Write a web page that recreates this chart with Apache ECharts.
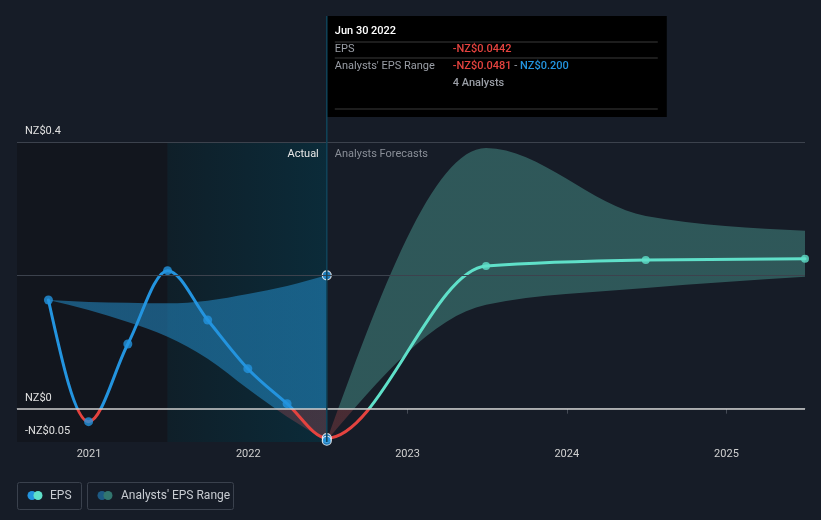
<!DOCTYPE html>
<html>
<head>
<meta charset="utf-8">
<script src="https://cdn.jsdelivr.net/npm/echarts@6/dist/echarts.min.js"></script>
<style>
html, body { margin: 0; padding: 0; background: #161c27; }
#chart { width: 821px; height: 520px; }
</style>
</head>
<body>
<div id="chart"></div>
<script>
// actual EPS (quarterly, trailing)
const pastDates = ['2020-09-30', '2020-12-31', '2021-03-31', '2021-06-30', '2021-09-30', '2021-12-31', '2022-03-31', '2022-06-30'];
const pastEps = [0.163, -0.0195, 0.097, 0.207, 0.133, 0.060, 0.0075, -0.0442];
const pastRangeLow = [0.163, 0.148, 0.130, 0.108, 0.075, 0.030, -0.012, -0.0481];
const pastRangeHigh = [0.163, 0.160, 0.159, 0.158, 0.162, 0.172, 0.184, 0.200];

// analyst forecasts
const fcDates = ['2022-06-30', '2023-06-30', '2024-06-30', '2025-06-30'];
const fcEps = [-0.0442, 0.214, 0.223, 0.225];
const fcLow = [-0.0481, 0.156, 0.181, 0.198];
const fcHigh = [-0.0481, 0.391, 0.289, 0.267];

const yLabelTicks = [0.4, 0, -0.05];
const yGridLines = [0.4, 0.2];
const xStart = '2020-07-20';
const xEnd = '2025-06-30';
const shadeStart = '2021-06-30';
const actualEnd = '2022-06-30';

const BLUE = '#2394df';
const TEAL = '#5fe0c9';
const RED = '#e5433f';
const FONT = 'Roboto, "Noto Sans", sans-serif';

const pairs = (dates, vals) => dates.map((d, i) => [d, vals[i]]);
const ts = d => +echarts.time.parse(d);

function fmtNZ(v) {
    if (Math.abs(v) < 1e-9) return 'NZ$0';
    return (v < 0 ? '-' : '') + 'NZ$' + Math.abs(v);
}

// monotone cubic tangents (same rule as d3 curveMonotoneX), pixel space
function tangents(pts) {
    const n = pts.length, h = [], s = [], t = new Array(n).fill(0);
    for (let i = 0; i < n - 1; i++) {
        h[i] = pts[i + 1][0] - pts[i][0];
        s[i] = (pts[i + 1][1] - pts[i][1]) / h[i];
    }
    for (let i = 1; i < n - 1; i++) {
        const p = (s[i - 1] * h[i] + s[i] * h[i - 1]) / (h[i - 1] + h[i]);
        t[i] = (Math.sign(s[i - 1]) + Math.sign(s[i])) *
            Math.min(Math.abs(s[i - 1]), Math.abs(s[i]), 0.5 * Math.abs(p)) || 0;
    }
    if (n > 2) {
        t[0] = (3 * s[0] - t[1]) / 2;
        t[n - 1] = (3 * s[n - 2] - t[n - 2]) / 2;
    } else {
        t[0] = t[1] = s[0];
    }
    return t;
}

function fwd(pts, t, from, to) {
    let d = '';
    for (let i = from; i < to; i++) {
        const h = (pts[i + 1][0] - pts[i][0]) / 3;
        d += ' C' + (pts[i][0] + h) + ',' + (pts[i][1] + t[i] * h) + ' ' +
            (pts[i + 1][0] - h) + ',' + (pts[i + 1][1] - t[i + 1] * h) + ' ' + pts[i + 1][0] + ',' + pts[i + 1][1];
    }
    return d;
}

function back(pts, t, from, to) {
    let d = '';
    for (let i = to - 1; i >= from; i--) {
        const h = (pts[i + 1][0] - pts[i][0]) / 3;
        d += ' C' + (pts[i + 1][0] - h) + ',' + (pts[i + 1][1] - t[i + 1] * h) + ' ' +
            (pts[i][0] + h) + ',' + (pts[i][1] + t[i] * h) + ' ' + pts[i][0] + ',' + pts[i][1];
    }
    return d;
}

// fill that switches colour at the zero line
function splitFill(api, above, below) {
    const x0 = ts(xStart);
    const top = api.coord([x0, 0.4])[1];
    const bot = api.coord([x0, -0.05])[1];
    const f = (api.coord([x0, 0])[1] - top) / (bot - top);
    return {
        type: 'linear', global: true, x: 0, y: top, x2: 0, y2: bot,
        colorStops: [
            { offset: 0, color: above }, { offset: f, color: above },
            { offset: f, color: below }, { offset: 1, color: below }
        ]
    };
}

function bandItem(dates, hi, lo, above, below) {
    return function (params, api) {
        if (params.dataIndex !== 0) return null;
        const up = dates.map((d, i) => api.coord([ts(d), hi[i]]));
        const dn = dates.map((d, i) => api.coord([ts(d), lo[i]]));
        const n = dates.length;
        const pathData = 'M' + up[0][0] + ',' + up[0][1] + fwd(up, tangents(up), 0, n - 1) +
            ' L' + dn[n - 1][0] + ',' + dn[n - 1][1] + back(dn, tangents(dn), 0, n - 1) + ' Z';
        return { type: 'path', shape: { pathData }, style: { fill: splitFill(api, above, below), stroke: null } };
    };
}

// whole EPS line: one monotone curve, coloured blue (actual) / teal (forecast), red below zero
const allDates = pastDates.concat(fcDates.slice(1));
const allEps = pastEps.concat(fcEps.slice(1));

function epsItem(params, api) {
    if (params.dataIndex !== 0) return null;
    const pts = allDates.map((d, i) => api.coord([ts(d), allEps[i]]));
    const t = tangents(pts);
    const k = pastDates.length - 1;
    const mk = (from, to, color) => ({
        type: 'path',
        shape: { pathData: 'M' + pts[from][0] + ',' + pts[from][1] + fwd(pts, t, from, to) },
        style: { fill: null, stroke: splitFill(api, color, RED), lineWidth: 3, lineCap: 'round', lineJoin: 'round' }
    });
    return { type: 'group', children: [mk(0, k, BLUE), mk(k, pts.length - 1, TEAL)] };
}

const chart = echarts.init(document.getElementById('chart'));

const option = {
    backgroundColor: '#161c27',
    animation: false,
    textStyle: { fontFamily: FONT },
    grid: { left: 17, right: 16, top: 142, bottom: 78 },
    xAxis: {
        type: 'time',
        min: xStart,
        max: xEnd,
        splitNumber: 5,
        axisLine: { lineStyle: { color: '#454b56', width: 1 } },
        axisTick: { show: true, length: 5, lineStyle: { color: '#454b56' } },
        splitLine: { show: false },
        axisLabel: {
            color: '#d0d0d0', fontSize: 11, margin: 7, fontFamily: FONT,
            showMinLabel: false, showMaxLabel: false,
            formatter: v => String(new Date(v).getFullYear())
        }
    },
    yAxis: {
        type: 'value',
        z: 10,
        min: -0.05,
        max: 0.4,
        interval: 0.05,
        axisLine: { show: false },
        axisTick: { show: false },
        splitLine: { show: false },
        axisLabel: {
            inside: true, margin: 8, color: '#e0e0e0', fontSize: 11, fontFamily: FONT,
            verticalAlign: 'bottom', padding: [0, 0, 5, 0],
            formatter: v => yLabelTicks.some(t => Math.abs(t - v) < 1e-9) ? fmtNZ(v) : ''
        }
    },
    series: [
        {
            id: 'bg', type: 'line', data: [], z: 0, silent: true,
            markArea: {
                silent: true,
                data: [
                    [{ xAxis: xStart, itemStyle: { color: '#12161e' } }, { xAxis: shadeStart }],
                    [{ xAxis: shadeStart, itemStyle: { color: {
                        type: 'linear', x: 0, y: 0, x2: 1, y2: 0,
                        colorStops: [{ offset: 0, color: '#0f1f29' }, { offset: 1, color: '#0b2b39' }]
                    } } }, { xAxis: actualEnd }]
                ]
            }
        },
        {
            id: 'pastBand', type: 'custom', z: 1, silent: true,
            renderItem: bandItem(pastDates, pastRangeHigh, pastRangeLow, 'rgba(35,140,200,0.55)', 'rgba(190,80,90,0.3)'),
            data: pairs(pastDates, pastRangeHigh)
        },
        {
            id: 'fcBand', type: 'custom', z: 1, silent: true,
            renderItem: bandItem(fcDates, fcHigh, fcLow, 'rgba(77,160,150,0.45)', 'rgba(190,80,80,0.3)'),
            data: pairs(fcDates, fcHigh)
        },
        {
            id: 'grid', type: 'line', data: [], z: 2, silent: true,
            markLine: {
                silent: true, symbol: 'none', label: { show: false },
                data: yGridLines.map(v => ({ yAxis: v, lineStyle: { color: '#3c424d', width: 1, type: 'solid' } }))
                    .concat([{ yAxis: 0, lineStyle: { color: '#cfcfcf', width: 1.5, type: 'solid' } }])
            }
        },
        {
            id: 'eps', type: 'custom', z: 3, silent: true,
            renderItem: epsItem,
            data: pairs(allDates, allEps)
        },
        {
            id: 'pastDots', type: 'scatter', z: 4, silent: true, symbolSize: 9,
            itemStyle: { color: BLUE },
            data: pairs(pastDates, pastEps).map((p, i) => i === pastDates.length - 1
                ? { value: p, itemStyle: { borderColor: '#ffffff', borderWidth: 1.2 } } : p)
        },
        {
            id: 'fcDots', type: 'scatter', z: 4, silent: true, symbolSize: 8,
            itemStyle: { color: TEAL },
            data: pairs(fcDates, fcEps).slice(1)
        },
        {
            id: 'hoverDots', type: 'scatter', z: 4, silent: true, symbolSize: 9,
            itemStyle: { color: BLUE, borderColor: '#ffffff', borderWidth: 1.2 },
            data: [
                [actualEnd, pastRangeHigh[pastRangeHigh.length - 1]],
                [actualEnd, pastRangeLow[pastRangeLow.length - 1]]
            ]
        }
    ]
};

chart.setOption(option);

// overlay: hover guide, section labels, tooltip box, legend
const px = (d, v) => chart.convertToPixel({ gridIndex: 0 }, [d, v]);
const gridTop = px(xStart, 0.4)[1];
const gridBottom = px(xStart, -0.05)[1];
const xCut = px(actualEnd, 0)[0];
const tipY = 16;
const tipW = 340;
const lbl = { fill: '#9a9ea6', font: '11px ' + FONT };

chart.setOption({
    graphic: [
        { type: 'line', silent: true, z: 5, shape: { x1: xCut, y1: tipY, x2: xCut, y2: gridBottom },
          style: { stroke: '#10445a', lineWidth: 1.5 } },
        { type: 'text', silent: true, z: 6, x: xCut - 8, y: gridTop + 12,
          style: { text: 'Actual', fill: '#e8e8e8', font: '11px ' + FONT, align: 'right', verticalAlign: 'middle' } },
        { type: 'text', silent: true, z: 6, x: xCut + 8, y: gridTop + 12,
          style: { text: 'Analysts Forecasts', fill: '#8a8f98', font: '11px ' + FONT, align: 'left', verticalAlign: 'middle' } },
        { type: 'group', silent: true, z: 10, x: xCut, y: tipY, children: [
            { type: 'rect', shape: { x: 0, y: 0, width: tipW, height: 101 }, style: { fill: '#000000' } },
            { type: 'text', x: 8, y: 15, style: { text: 'Jun 30 2022', fill: '#ffffff', font: '500 11px ' + FONT, verticalAlign: 'middle' } },
            { type: 'line', shape: { x1: 8, y1: 26, x2: 331, y2: 26 }, style: { stroke: '#3a3a3a', lineWidth: 1 } },
            { type: 'text', x: 8, y: 33, style: Object.assign({ text: 'EPS', verticalAlign: 'middle' }, lbl) },
            { type: 'text', x: 126, y: 33, style: { text: '-NZ$0.0442', fill: RED, font: '500 11px ' + FONT, verticalAlign: 'middle' } },
            { type: 'line', shape: { x1: 8, y1: 42, x2: 331, y2: 42 }, style: { stroke: '#3a3a3a', lineWidth: 1 } },
            { type: 'text', x: 8, y: 50, style: Object.assign({ text: "Analysts' EPS Range", verticalAlign: 'middle' }, lbl) },
            { type: 'text', x: 126, y: 50, style: {
                text: '{r|-NZ$0.0481} {g|-} {b|NZ$0.200}', verticalAlign: 'middle', font: '500 11px ' + FONT,
                rich: {
                    r: { fill: RED, font: '500 11px ' + FONT },
                    g: { fill: '#9a9ea6', font: '11px ' + FONT },
                    b: { fill: BLUE, font: '500 11px ' + FONT }
                } } },
            { type: 'text', x: 126, y: 67, style: { text: '4 Analysts', fill: '#9a9ea6', font: '500 11px ' + FONT, verticalAlign: 'middle' } },
            { type: 'line', shape: { x1: 8, y1: 93, x2: 331, y2: 93 }, style: { stroke: '#3a3a3a', lineWidth: 1 } }
        ] },
        { type: 'group', silent: true, x: 17, y: 482, children: [
            { type: 'rect', shape: { x: 0.5, y: 0.5, width: 64, height: 27, r: 2 }, style: { fill: 'none', stroke: '#3a414d', lineWidth: 1 } },
            { type: 'circle', shape: { cx: 15, cy: 13.5, r: 4.5 }, style: { fill: BLUE } },
            { type: 'circle', shape: { cx: 21, cy: 13.5, r: 4.5 }, style: { fill: TEAL } },
            { type: 'text', x: 33, y: 14, style: { text: 'EPS', fill: '#c8ccd2', font: '12px ' + FONT, verticalAlign: 'middle' } },
            { type: 'rect', shape: { x: 70.5, y: 0.5, width: 146, height: 27, r: 2 }, style: { fill: 'none', stroke: '#3a414d', lineWidth: 1 } },
            { type: 'circle', shape: { cx: 85, cy: 13.5, r: 4.5 }, style: { fill: '#1d5a84' } },
            { type: 'circle', shape: { cx: 91, cy: 13.5, r: 4.5 }, style: { fill: '#32766f' } },
            { type: 'text', x: 104, y: 14, style: { text: "Analysts' EPS Range", fill: '#c8ccd2', font: '12px ' + FONT, verticalAlign: 'middle' } }
        ] }
    ]
});
</script>
</body>
</html>
